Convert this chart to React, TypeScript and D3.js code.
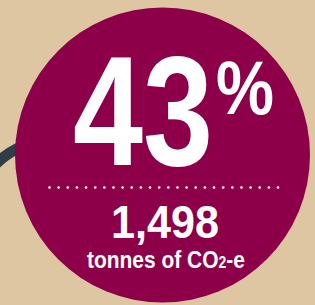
import React, { useEffect, useRef } from 'react';
import * as d3 from 'd3';

// values
const shareValues = [43];
const tonnesValues = [1498];
const unitLabels = ['tonnes of CO', '2', '-e'];
const dotCount = 26;

const W = 315;
const H = 305;

const App = () => {
  const chartRef = useRef<SVGSVGElement>(null);

  useEffect(() => {
    if (!chartRef.current) return;
    const svg = d3.select(chartRef.current);
    svg.selectAll('*').remove();

    svg.append('rect').attr('width', W).attr('height', H).attr('fill', '#dfc6a2');

    // dark connector arc on the left, behind the disc
    const connector = d3.arc()
      .innerRadius(81)
      .outerRadius(92)
      .startAngle(-Math.PI * 0.45)
      .endAngle(-Math.PI * 0.05);
    svg.append('path')
      .attr('transform', 'translate(56,226)')
      .attr('d', connector as any)
      .attr('fill', '#2f3d48');

    svg.append('circle')
      .attr('cx', 162.5)
      .attr('cy', 155)
      .attr('r', 147.5)
      .attr('fill', '#8d0049');

    const font = '"Liberation Sans", Arial, sans-serif';

    // condensed look: draw at size, then squeeze to the width seen in the reference
    const fitText = (x: number, y: number, width: number, parts: [string, number][]) => {
      const t = svg.append('text')
        .attr('font-family', font)
        .attr('font-weight', 700)
        .attr('font-size', parts[0][1])
        .attr('fill', '#fff');
      parts.forEach(([s, fs]) => t.append('tspan').attr('font-size', fs).text(s));
      const w = (t.node() as SVGTextElement).getComputedTextLength() || width;
      t.attr('transform', `translate(${x},${y}) scale(${width / w},1)`);
      return t;
    };

    fitText(73, 165, 140, [[String(shareValues[0]), 156]]);
    fitText(216, 114, 58, [['%', 76]]);

    // dotted divider
    const dx = d3.scaleLinear().domain([0, dotCount - 1]).range([49.5, 278]);
    svg.append('g')
      .selectAll('circle')
      .data(d3.range(dotCount))
      .join('circle')
      .attr('cx', d => dx(d))
      .attr('cy', 187.5)
      .attr('r', 1.3)
      .attr('fill', '#fff');

    fitText(111, 237.5, 108, [[d3.format(',')(tonnesValues[0]), 47]]);
    fitText(87, 267.5, 158, [[unitLabels[0], 24], [unitLabels[1], 16], [unitLabels[2], 24]]);
  }, []);

  return (
    <svg
      ref={chartRef}
      width={W}
      height={H}
      style={{ position: 'fixed', left: 0, top: 0, display: 'block' }}
    />
  );
};

export default App;
